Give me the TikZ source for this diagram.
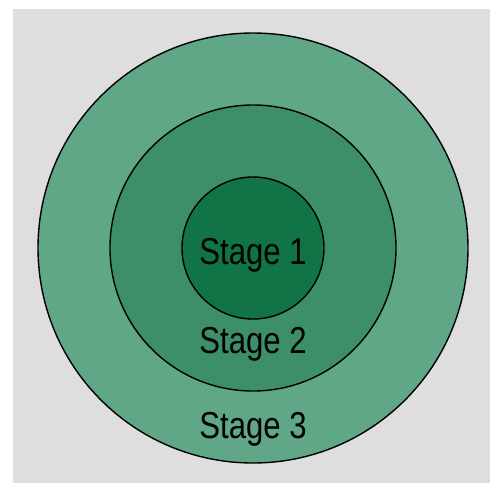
\documentclass[tikz,border=0pt]{standalone}
\usepackage{fontspec}
\setmainfont{Liberation Sans}
\definecolor{bggray}{HTML}{DEDEDE}
\definecolor{ringthree}{HTML}{5FA786}
\definecolor{ringtwo}{HTML}{3D8F69}
\definecolor{ringone}{HTML}{107446}
\begin{document}
\begin{tikzpicture}[x=1pt,y=-1pt,
  ring/.style={draw=black,line width=1.4pt},
  label/.style={inner sep=0pt,anchor=base,font=\fontsize{37.5}{40}\selectfont,xscale=0.83}]
  \useasboundingbox (0,0) rectangle (490,483);
  \fill[white] (0,0) rectangle (490,483);
  \fill[bggray] (13,9) rectangle (490,483);
  \coordinate (c) at (253,248);
  \path[ring,fill=ringthree] (c) circle[radius=215];
  \path[ring,fill=ringtwo] (c) circle[radius=143];
  \path[ring,fill=ringone] (c) circle[radius=71];
  \node[label] (s1) at (253,264) {Stage 1};
  \node[label] (s2) at (253,353) {Stage 2};
  \node[label] (s3) at (253,438) {Stage 3};
\end{tikzpicture}
\end{document}
